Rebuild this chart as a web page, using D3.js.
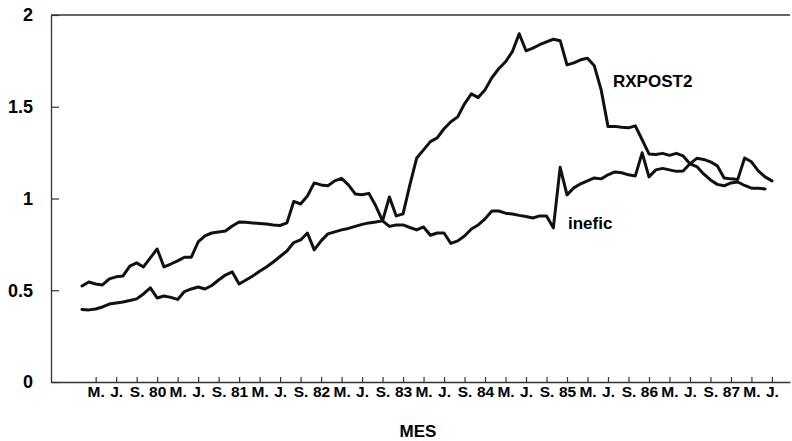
<!DOCTYPE html>
<html>
<head>
<meta charset="utf-8">
<script src="https://cdn.jsdelivr.net/npm/d3@7"></script>
<style>
  html, body { margin: 0; padding: 0; background: #fff; }
  svg { display: block; }
  text { font-family: "Liberation Sans", Arial, Helvetica, sans-serif; font-weight: bold; fill: #000; }
</style>
</head>
<body>
<svg id="chart" width="792" height="441"></svg>
<script>
// Monthly index: 0 = Jan 1979
const inefic = [
  0.523,0.545,0.534,0.529,0.562,0.573,0.578,0.632,0.649,0.627,
  0.676,0.725,0.627,0.643,0.660,0.680,0.680,0.763,0.796,0.812,
  0.818,0.823,0.850,0.872,0.870,0.867,0.864,0.861,0.856,0.853,
  0.867,0.984,0.970,1.014,1.085,1.074,1.069,1.096,1.110,1.074,
  1.025,1.020,1.028,0.960,0.878,0.848,0.856,0.856,0.842,0.829,
  0.845,0.800,0.812,0.812,0.755,0.769,0.796,0.834,0.856,0.889,
  0.932,0.932,0.920,0.916,0.908,0.902,0.894,0.905,0.905,0.840,
  1.170,1.020,1.058,1.080,1.096,1.112,1.107,1.129,1.145,1.140,
  1.129,1.123,1.249,1.118,1.156,1.164,1.156,1.148,1.150,1.189,
  1.219,1.213,1.200,1.178,1.112,1.107,1.104,1.221,1.200,1.150,
  1.118,1.096
];
const rxpost2 = [
  0.395,0.393,0.398,0.409,0.425,0.431,0.436,0.444,0.453,0.480,
  0.513,0.458,0.469,0.461,0.450,0.493,0.507,0.518,0.507,0.526,
  0.556,0.583,0.600,0.534,0.556,0.578,0.603,0.627,0.654,0.684,
  0.714,0.760,0.774,0.812,0.720,0.769,0.807,0.818,0.829,0.837,
  0.848,0.859,0.867,0.872,0.878,1.008,0.905,0.916,1.074,1.221,
  1.265,1.310,1.330,1.380,1.418,1.445,1.516,1.570,1.550,1.592,
  1.658,1.707,1.745,1.800,1.898,1.805,1.820,1.838,1.854,1.868,
  1.860,1.728,1.739,1.756,1.764,1.723,1.592,1.393,1.393,1.388,
  1.385,1.396,1.320,1.243,1.240,1.246,1.235,1.246,1.232,1.189,
  1.174,1.134,1.101,1.077,1.069,1.085,1.090,1.071,1.056,1.056,
  1.052
];
const xTickMonths = [2,5,8,11,14,17,20,23,26,29,32,35,38,41,44,47,50,53,56,59,62,65,68,71,74,77,80,83,86,89,92,95,98,101];
const xTickLabels = ["M.","J.","S.","80","M.","J.","S.","81","M.","J.","S.","82","M.","J.","S.","83",
                     "M.","J.","S.","84","M.","J.","S.","85","M.","J.","S.","86","M.","J.","S.","87","M.","J."];
const yTickValues = [0, 0.5, 1, 1.5, 2];
const yTickLabels = ["0", "0.5", "1", "1.5", "2"];
const seriesNames = ["RXPOST2", "inefic"];

(function () {
const svg = d3.select("#chart");
const monthPx = 6.831, x0 = 82, mLeft = 51, mRight = 790, mTop = 15, mBottom = 382;
const x = d3.scaleLinear()
  .domain([(mLeft - x0) / monthPx, (mRight - x0) / monthPx])
  .range([mLeft, mRight]);
const y = d3.scaleLinear().domain([0, 2]).range([mBottom, mTop]);

// frame top line
svg.append("line").attr("x1", mLeft).attr("x2", mRight).attr("y1", mTop).attr("y2", mTop)
  .attr("stroke", "#333").attr("stroke-width", 1.3);

// y axis
const yAxis = d3.axisLeft(y)
  .tickValues(yTickValues)
  .tickFormat((d, i) => yTickLabels[i])
  .tickSizeInner(-8).tickSizeOuter(0).tickPadding(18);
const gy = svg.append("g").attr("transform", `translate(${mLeft},0)`).call(yAxis);
gy.select(".domain").attr("stroke", "#333").attr("stroke-width", 1.3);
gy.selectAll(".tick line").attr("stroke", "#333").attr("stroke-width", 1.2);
gy.selectAll(".tick text").style("font-size", "18px").attr("fill", "#000");

// x axis
const xAxis = d3.axisBottom(x)
  .tickValues(xTickMonths)
  .tickFormat((d, i) => xTickLabels[i])
  .tickSizeInner(-5).tickSizeOuter(0).tickPadding(4);
const gx = svg.append("g").attr("transform", `translate(0,${mBottom})`).call(xAxis);
gx.select(".domain").attr("stroke", "#333").attr("stroke-width", 1.3);
gx.selectAll(".tick line").attr("stroke", "#333").attr("stroke-width", 1.2);
gx.selectAll(".tick text").style("font-size", "15.5px").attr("fill", "#000");

// lines
const line = d3.line().x((d, i) => x(i)).y(d => y(d)).curve(d3.curveLinear);
[rxpost2, inefic].forEach(s => {
  svg.append("path").datum(s).attr("d", line)
    .attr("fill", "none").attr("stroke", "#111")
    .attr("stroke-width", 3).attr("stroke-linejoin", "round").attr("stroke-linecap", "round");
});

// labels
svg.append("text").attr("x", 613).attr("y", 87).style("font-size", "17px").text(seriesNames[0]);
svg.append("text").attr("x", 568).attr("y", 229).style("font-size", "17px").text(seriesNames[1]);
svg.append("text").attr("x", 418).attr("y", 437).attr("text-anchor", "middle").style("font-size", "17px").text("MES");
})();
</script>
</body>
</html>
